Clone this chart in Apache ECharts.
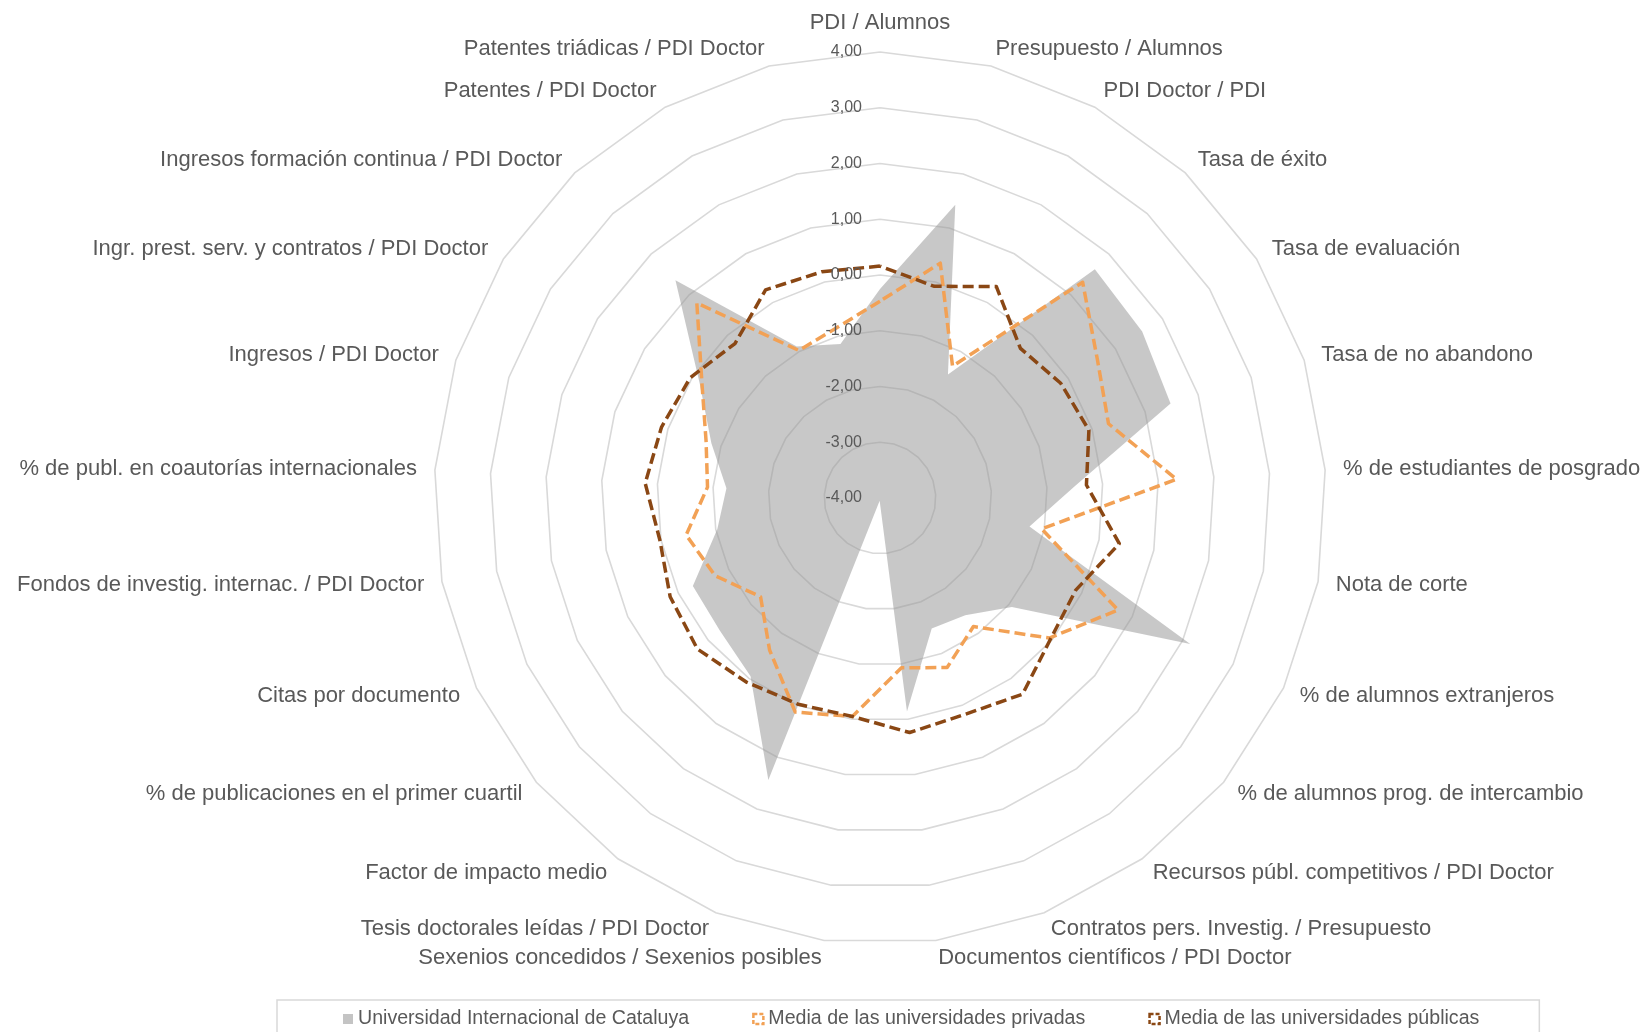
<!DOCTYPE html>
<html>
<head>
<meta charset="utf-8">
<script src="https://cdn.jsdelivr.net/npm/echarts@6/dist/echarts.min.js"></script>
<style>
  html, body { margin: 0; padding: 0; background: #ffffff; }
  #chart { width: 1650px; height: 1032px; }
</style>
</head>
<body>
<div id="chart"></div>
<script>
// Indicators, listed clockwise starting from the top of the radar
const indicatorNames = [
  'PDI / Alumnos',
  'Presupuesto / Alumnos',
  'PDI Doctor / PDI',
  'Tasa de éxito',
  'Tasa de evaluación',
  'Tasa de no abandono',
  '% de estudiantes de posgrado',
  'Nota de corte',
  '% de alumnos extranjeros',
  '% de alumnos prog. de intercambio',
  'Recursos públ. competitivos / PDI Doctor',
  'Contratos pers. Investig. / Presupuesto',
  'Documentos científicos / PDI Doctor',
  'Sexenios concedidos / Sexenios posibles',
  'Tesis doctorales leídas / PDI Doctor',
  'Factor de impacto medio',
  '% de publicaciones en el primer cuartil',
  'Citas por documento',
  'Fondos de investig. internac. / PDI Doctor',
  '% de publ. en coautorías internacionales',
  'Ingresos / PDI Doctor',
  'Ingr. prest. serv. y contratos / PDI Doctor',
  'Ingresos formación continua / PDI Doctor',
  'Patentes / PDI Doctor',
  'Patentes triádicas / PDI Doctor'
];

const seriesNames = [
  'Universidad Internacional de Cataluya',
  'Media de las universidades privadas',
  'Media de las universidades públicas'
];

// Standardised scores, same order as indicatorNames
const uicValues = [
  -0.25, 1.43, -1.47, 1.63, 1.57, 1.48, -0.49, -1.27, 2.15, -0.93,
  -1.40, -1.48, -0.14, -3.95, 1.44, -0.05, -0.27, -0.29, -1.03, -1.24,
  -0.82, -0.17, 1.36, -0.90, -1.15
];
const privadasValues = [
  -0.47, 0.35, -1.30, 1.31, 0.62, 0.31, 1.33, -1.05, 0.72, -0.06,
  -1.15, -0.73, -0.93, -0.05, 0.13, -0.63, -1.22, -0.73, -0.46, -0.90,
  -0.72, -0.22, 0.80, -0.98, -0.85
];
const publicasValues = [
  0.16, -0.08, 0.33, -0.32, -0.16, -0.06, -0.29, 0.37, -0.12, -0.03,
  0.35, 0.17, 0.24, -0.05, -0.02, 0.08, 0.25, 0.16, 0.02, 0.22,
  0.12, 0.03, -0.20, 0.26, 0.19
];

// Scale ticks
const scaleMin = -4;
const scaleMax = 4;
const scaleStep = 1;

// ECharts lays radar indicators out counter-clockwise, so walk the list backwards after the first one
const order = [0];
for (let i = indicatorNames.length - 1; i >= 1; i--) order.push(i);
const pick = arr => order.map(i => arr[i]);

const FONT = "'Liberation Sans', Arial, sans-serif";
const TEXT = '#595959';
const GRAY_FILL = 'rgba(150,150,150,0.52)';
const ORANGE = '#F2A155';
const BROWN = '#8A4714';

const CENTER = [880, 498];
const RADIUS = 446;

const chart = echarts.init(document.getElementById('chart'), null, { renderer: 'canvas' });

chart.setOption({
  backgroundColor: '#ffffff',
  animation: false,
  radar: {
    center: CENTER,
    radius: RADIUS,
    startAngle: 90,
    shape: 'polygon',
    splitNumber: (scaleMax - scaleMin) / scaleStep,
    nameGap: 18,
    axisName: { color: TEXT, fontSize: 22, fontFamily: FONT },
    indicator: order.map(i => ({ name: indicatorNames[i], min: scaleMin, max: scaleMax })),
    axisLine: { show: false },
    axisTick: { show: false },
    axisLabel: { show: false },
    splitArea: { show: false },
    splitLine: { lineStyle: { color: '#d9d9d9', width: 1.6 } }
  },
  // Polar overlay that only carries the value labels along the top spoke
  polar: { center: CENTER, radius: RADIUS },
  angleAxis: { type: 'value', min: 0, max: 360, startAngle: 90, show: false },
  radiusAxis: {
    type: 'value',
    min: scaleMin,
    max: scaleMax,
    interval: scaleStep,
    z: 10,
    axisLine: { show: false },
    axisTick: { show: false },
    splitLine: { show: false },
    axisLabel: {
      show: true,
      showMinLabel: true,
      showMaxLabel: true,
      margin: 18,
      color: TEXT,
      fontSize: 16,
      fontFamily: FONT,
      formatter: v => v.toFixed(2).replace('.', ',')
    }
  },
  legend: {
    top: 1000,
    left: 277,
    padding: [9, 60, 30, 66],
    borderColor: '#d9d9d9',
    borderWidth: 1.5,
    itemGap: 63,
    itemWidth: 10,
    itemHeight: 10,
    selectedMode: false,
    textStyle: { color: TEXT, fontSize: 19.6, fontFamily: FONT },
    data: [
      { name: seriesNames[0], icon: 'rect', itemStyle: { color: '#c4c4c4', borderWidth: 0 } },
      { name: seriesNames[1], icon: 'rect', itemStyle: { color: 'rgba(0,0,0,0)', borderColor: ORANGE, borderWidth: 2.5, borderType: [4, 2] } },
      { name: seriesNames[2], icon: 'rect', itemStyle: { color: 'rgba(0,0,0,0)', borderColor: BROWN, borderWidth: 2.5, borderType: [4, 2] } }
    ]
  },
  series: [
    {
      type: 'radar',
      name: seriesNames[0],
      symbol: 'none',
      z: 2,
      itemStyle: { color: '#c4c4c4' },
      lineStyle: { width: 0, opacity: 0 },
      areaStyle: { color: GRAY_FILL, opacity: 1 },
      data: [{ name: seriesNames[0], value: pick(uicValues) }]
    },
    {
      type: 'radar',
      name: seriesNames[1],
      symbol: 'none',
      z: 3,
      itemStyle: { color: ORANGE },
      lineStyle: { color: ORANGE, width: 3.5, type: [11, 5] },
      data: [{ name: seriesNames[1], value: pick(privadasValues) }]
    },
    {
      type: 'radar',
      name: seriesNames[2],
      symbol: 'none',
      z: 4,
      itemStyle: { color: BROWN },
      lineStyle: { color: BROWN, width: 3.5, type: [11, 5] },
      data: [{ name: seriesNames[2], value: pick(publicasValues) }]
    }
  ]
});
</script>
</body>
</html>
